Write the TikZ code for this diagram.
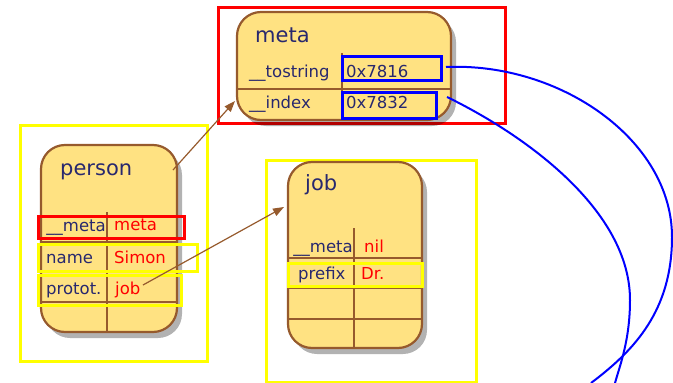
\documentclass[tikz,border=0pt]{standalone}
\usepackage{fontspec}
\setmainfont{DejaVu Sans}
\usetikzlibrary{shadows,arrows.meta}
\definecolor{cardfill}{RGB}{255,226,130}
\definecolor{cardline}{RGB}{150,90,45}
\definecolor{navy}{RGB}{40,40,110}
\definecolor{hlyellow}{RGB}{255,255,0}
\tikzset{
  card/.style={draw=cardline, line width=2.2pt, fill=cardfill, rounded corners=24pt,
    drop shadow={shadow xshift=5pt, shadow yshift=-6pt, fill=black, opacity=0.3}},
  divider/.style={draw=cardline, line width=1.3pt},
  title/.style={anchor=base west, inner sep=0pt, text=navy, font=\fontsize{21}{23}\selectfont},
  key/.style={anchor=base west, inner sep=0pt, text=navy, font=\fontsize{16.5}{18}\selectfont},
  keyr/.style={anchor=base east, inner sep=0pt, text=navy, font=\fontsize{16.5}{18}\selectfont},
  val/.style={anchor=base west, inner sep=0pt, text=red, font=\fontsize{16.5}{18}\selectfont},
  addr/.style={anchor=base west, inner sep=0pt, text=navy, font=\fontsize{16.5}{18}\selectfont},
  ybox/.style={draw=hlyellow, line width=3pt},
  rbox/.style={draw=red, line width=3pt},
  bbox/.style={draw=blue, line width=3pt},
  ptr/.style={draw=cardline, line width=1.2pt, -{Triangle[length=11pt,width=8pt]}},
  link/.style={draw=blue, line width=2pt}
}
\begin{document}
\begin{tikzpicture}[x=1pt,y=1pt]
\useasboundingbox (0,0) rectangle (673,-383);

% outer frames
\draw[rbox] (218,-7) rectangle (505,-123);
\draw[ybox] (20,-125) rectangle (207,-361);
\draw[ybox] (266,-160) rectangle (476,-382);

% meta card
\node[card, minimum width=214pt, minimum height=108pt] (metacard) at (344,-66) {};
\draw[divider] (342,-53) -- (342,-120);
\draw[divider] (237,-89) -- (451,-89);
\node[title] (metatitle) at (255,-42) {meta};
\node[key] (tostringkey) at (249,-77) {\_\_tostring};
\node[key] (indexkey) at (249,-108) {\_\_index};
\node[addr] (tsval) at (346,-77) {0x7816};
\node[addr] (ixval) at (346,-108) {0x7832};
\draw[bbox] (342,-56) rectangle (441,-80);
\draw[bbox] (342,-92) rectangle (436,-118);

% person card
\node[card, minimum width=136pt, minimum height=187pt] (person) at (109,-238.5) {};
\draw[divider] (107,-212) -- (107,-332);
\draw[divider] (41,-242) -- (177,-242);
\draw[divider] (41,-272) -- (177,-272);
\draw[divider] (41,-302) -- (177,-302);
\node[title] (persontitle) at (60,-175) {person};
\node[keyr] (pmetakey) at (106,-231) {\_\_meta};
\node[val] (pmetaval) at (114,-230) {meta};
\node[key] (namekey) at (46,-263) {name};
\node[val] (nameval) at (114,-263) {Simon};
\node[key] (protokey) at (46,-294) {protot.};
\node[val] (protoval) at (115,-294) {job};
\draw[rbox] (38,-216) rectangle (184,-238);
\draw[ybox] (38,-244) rectangle (197,-271);
\draw[ybox] (38,-275) rectangle (181,-305);

% job card
\node[card, minimum width=134pt, minimum height=186pt] (job) at (355,-255) {};
\draw[divider] (354,-228) -- (354,-348);
\draw[divider] (288,-258) -- (422,-258);
\draw[divider] (288,-288) -- (422,-288);
\draw[divider] (288,-319) -- (422,-319);
\node[title] (jobtitle) at (305,-190) {job};
\node[keyr] (jmetakey) at (353,-252) {\_\_meta};
\node[val] (jmetaval) at (364,-252) {nil};
\node[key] (prefixkey) at (298,-279) {prefix};
\node[val] (prefixval) at (361,-279) {Dr.};
\draw[ybox] (288,-263) rectangle (422,-286);

% pointers
\coordinate (p1s) at (173,-170);
\coordinate (p1e) at (235,-101);
\draw[ptr] (p1s) -- (p1e);
\coordinate (p2s) at (143,-285);
\coordinate (p2e) at (284,-207);
\draw[ptr] (p2s) -- (p2e);

% blue links
\coordinate (l1a) at (446,-67);
\coordinate (l1b) at (672,-237);
\coordinate (l1c) at (591,-383);
\draw[link] (l1a) .. controls (560,-62) and (672,-140) .. (l1b)
  .. controls (672,-310) and (635,-350) .. (l1c);
\coordinate (l2a) at (447,-97);
\coordinate (l2b) at (630,-300);
\coordinate (l2c) at (615,-383);
\draw[link] (l2a) .. controls (525,-135) and (630,-210) .. (l2b)
  .. controls (630,-340) and (620,-365) .. (l2c);
\end{tikzpicture}
\end{document}
